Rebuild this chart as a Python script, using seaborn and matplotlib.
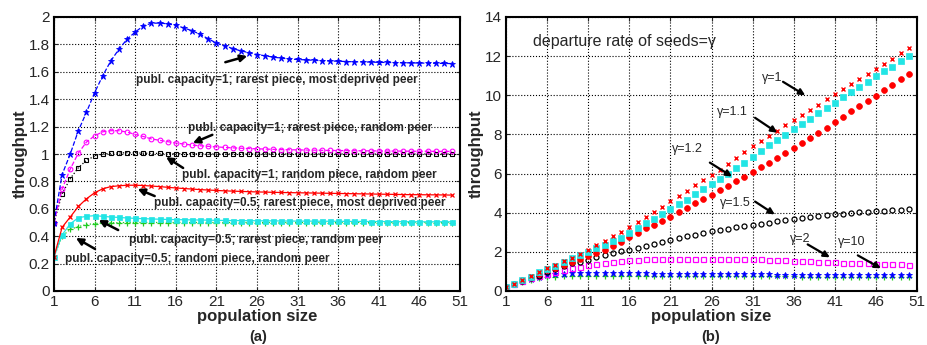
import numpy as np
import pandas as pd
import matplotlib
matplotlib.use("Agg")
import matplotlib.pyplot as plt
import seaborn as sns

# ==========================================================
# Data (population size 1..50)
# ==========================================================
pop = np.arange(1, 51)

# panel (a): publ. capacity = 1
cap1_rarest_deprived = [0.50, 0.85, 1.00, 1.17, 1.305, 1.448, 1.571, 1.68, 1.765, 1.838,
                        1.89, 1.935, 1.954, 1.956, 1.95, 1.94, 1.92, 1.90, 1.874, 1.84,
                        1.81, 1.79, 1.77, 1.753, 1.74, 1.726, 1.717, 1.707, 1.70, 1.693,
                        1.69, 1.687, 1.684, 1.681, 1.679, 1.677, 1.675, 1.673, 1.672, 1.671,
                        1.669, 1.668, 1.667, 1.666, 1.665, 1.664, 1.663, 1.662, 1.661, 1.66]
cap1_rarest_random = [0.50, 0.745, 0.89, 1.007, 1.087, 1.133, 1.162, 1.17, 1.17, 1.16,
                      1.143, 1.128, 1.11, 1.10, 1.09, 1.08, 1.073, 1.065, 1.06, 1.056,
                      1.052, 1.048, 1.045, 1.042, 1.04, 1.038, 1.036, 1.034, 1.032, 1.031,
                      1.03, 1.029, 1.028, 1.027, 1.026, 1.025, 1.025, 1.024, 1.023, 1.023,
                      1.022, 1.022, 1.021, 1.021, 1.02, 1.02, 1.02, 1.019, 1.019, 1.019]
cap1_random_random = [0.50, 0.71, 0.82, 0.90, 0.954, 0.985, 1.0, 1.005, 1.008, 1.009,
                      1.008, 1.006, 1.005, 1.004, 1.003, 1.002, 1.002, 1.001, 1.001, 1.0,
                      1.0, 1.0, 1.0, 1.0, 1.0, 1.0, 1.0, 1.0, 1.0, 1.0,
                      1.0, 1.0, 1.0, 1.0, 1.0, 1.0, 1.0, 1.0, 1.0, 1.0,
                      1.0, 1.0, 1.0, 1.0, 1.0, 1.0, 1.0, 1.0, 1.0, 1.0]
# panel (a): publ. capacity = 0.5
cap05_rarest_deprived = [0.25, 0.465, 0.54, 0.617, 0.673, 0.717, 0.746, 0.762, 0.768, 0.772,
                         0.772, 0.77, 0.766, 0.762, 0.757, 0.752, 0.748, 0.744, 0.74, 0.737,
                         0.734, 0.731, 0.729, 0.727, 0.725, 0.723, 0.722, 0.72, 0.719, 0.718,
                         0.717, 0.716, 0.715, 0.714, 0.713, 0.712, 0.711, 0.71, 0.709, 0.708,
                         0.707, 0.706, 0.705, 0.704, 0.703, 0.703, 0.702, 0.702, 0.701, 0.70]
cap05_rarest_random = [0.25, 0.41, 0.49, 0.535, 0.545, 0.55, 0.545, 0.54, 0.537, 0.533,
                       0.53, 0.528, 0.526, 0.524, 0.522, 0.521, 0.52, 0.519, 0.518, 0.517,
                       0.516, 0.515, 0.514, 0.514, 0.513, 0.513, 0.512, 0.512, 0.511, 0.511,
                       0.51, 0.51, 0.51, 0.509, 0.509, 0.509, 0.508, 0.508, 0.508, 0.507,
                       0.507, 0.507, 0.506, 0.506, 0.506, 0.505, 0.505, 0.505, 0.505, 0.505]
cap05_random_random = [0.25, 0.40, 0.45, 0.47, 0.485, 0.492, 0.496, 0.498, 0.499, 0.5,
                       0.5, 0.5, 0.5, 0.5, 0.5, 0.5, 0.5, 0.5, 0.5, 0.5,
                       0.5, 0.5, 0.5, 0.5, 0.5, 0.5, 0.5, 0.5, 0.5, 0.5,
                       0.5, 0.5, 0.5, 0.5, 0.5, 0.5, 0.5, 0.5, 0.5, 0.5,
                       0.5, 0.5, 0.5, 0.5, 0.5, 0.5, 0.5, 0.5, 0.5, 0.5]

# panel (b): departure rate of seeds gamma
gamma_1 = [0.2, 0.38, 0.57, 0.75, 0.95, 1.15, 1.33, 1.52, 1.71, 1.91,
           2.12, 2.34, 2.56, 2.8, 3.03, 3.27, 3.51, 3.77, 4.03, 4.3,
           4.58, 4.85, 5.13, 5.4, 5.66, 5.93, 6.2, 6.5, 6.8, 7.1,
           7.39, 7.66, 7.91, 8.2, 8.47, 8.76, 9.01, 9.27, 9.52, 9.8,
           10.06, 10.33, 10.59, 10.84, 11.1, 11.35, 11.6, 11.86, 12.15, 12.4]
gamma_1_1 = [0.2, 0.38, 0.57, 0.74, 0.95, 1.13, 1.3, 1.46, 1.67, 1.84,
             1.99, 2.19, 2.36, 2.55, 2.72, 2.98, 3.23, 3.45, 3.69, 3.91,
             4.2, 4.42, 4.67, 4.98, 5.22, 5.49, 5.73, 6.0, 6.29, 6.54,
             6.83, 7.14, 7.45, 7.73, 7.97, 8.27, 8.52, 8.81, 9.08, 9.35,
             9.62, 9.9, 10.16, 10.43, 10.68, 10.96, 11.22, 11.47, 11.76, 12.03]
gamma_1_2 = [0.2, 0.36, 0.56, 0.71, 0.85, 1.07, 1.19, 1.33, 1.5, 1.65,
             1.8, 1.92, 2.09, 2.29, 2.5, 2.78, 2.95, 3.2, 3.38, 3.58,
             3.8, 4.02, 4.26, 4.48, 4.7, 4.91, 5.16, 5.37, 5.6, 5.85,
             6.1, 6.33, 6.56, 6.8, 7.06, 7.31, 7.57, 7.82, 8.08, 8.35,
             8.62, 8.89, 9.18, 9.43, 9.7, 9.98, 10.25, 10.54, 10.82, 11.1]
gamma_1_5 = [0.2, 0.36, 0.52, 0.65, 0.78, 0.95, 1.1, 1.28, 1.42, 1.5,
             1.6, 1.72, 1.82, 1.92, 2.02, 2.1, 2.22, 2.32, 2.42, 2.51,
             2.62, 2.72, 2.79, 2.86, 2.96, 3.05, 3.12, 3.19, 3.26, 3.33,
             3.38, 3.44, 3.5, 3.56, 3.62, 3.68, 3.72, 3.77, 3.82, 3.87,
             3.91, 3.95, 3.99, 4.02, 4.05, 4.08, 4.1, 4.13, 4.16, 4.2]
gamma_2 = [0.2, 0.36, 0.52, 0.65, 0.75, 0.88, 0.97, 1.09, 1.17, 1.24,
           1.31, 1.40, 1.45, 1.50, 1.53, 1.57, 1.60, 1.62, 1.64, 1.65,
           1.66, 1.66, 1.66, 1.66, 1.66, 1.66, 1.65, 1.64, 1.63, 1.62,
           1.61, 1.61, 1.60, 1.58, 1.56, 1.55, 1.53, 1.52, 1.50, 1.48,
           1.46, 1.45, 1.44, 1.43, 1.42, 1.40, 1.39, 1.37, 1.355, 1.345]
gamma_10 = [0.2, 0.36, 0.5, 0.62, 0.72, 0.8, 0.85, 0.88, 0.9, 0.91,
            0.92, 0.92, 0.92, 0.915, 0.91, 0.905, 0.9, 0.895, 0.89, 0.885,
            0.88, 0.877, 0.874, 0.871, 0.868, 0.865, 0.862, 0.859, 0.856, 0.853,
            0.85, 0.847, 0.844, 0.841, 0.838, 0.835, 0.832, 0.829, 0.826, 0.823,
            0.82, 0.818, 0.816, 0.814, 0.812, 0.81, 0.808, 0.806, 0.804, 0.80]
gamma_inf = [0.2, 0.34, 0.47, 0.57, 0.65, 0.7, 0.74, 0.76, 0.77, 0.78,
             0.78, 0.78, 0.78, 0.78, 0.775, 0.775, 0.77, 0.77, 0.77, 0.765,
             0.765, 0.76, 0.76, 0.76, 0.76, 0.755, 0.755, 0.755, 0.75, 0.75,
             0.75, 0.75, 0.745, 0.745, 0.745, 0.745, 0.74, 0.74, 0.74, 0.74,
             0.74, 0.735, 0.735, 0.735, 0.735, 0.735, 0.73, 0.73, 0.73, 0.73]

x_ticks = [1, 6, 11, 16, 21, 26, 31, 36, 41, 46, 51]
ya_ticks = [0, 0.2, 0.4, 0.6, 0.8, 1, 1.2, 1.4, 1.6, 1.8, 2]
ya_labels = ["0", "0.2", "0.4", "0.6", "0.8", "1", "1.2", "1.4", "1.6", "1.8", "2"]
yb_ticks = [0, 2, 4, 6, 8, 10, 12, 14]

# annotation texts
labels_a = ["publ. capacity=1; rarest piece, most deprived peer",
            "publ. capacity=1; rarest piece, random peer",
            "publ. capacity=1; random piece, random peer",
            "publ. capacity=0.5; rarest piece, most deprived peer",
            "publ. capacity=0.5; rarest piece, random peer",
            "publ. capacity=0.5; random piece, random peer"]
labels_b = ["\u03b3=1", "\u03b3=1.1", "\u03b3=1.2", "\u03b3=1.5", "\u03b3=2", "\u03b3=10"]

# ==========================================================
# Style
# ==========================================================
sns.set_style("white")
plt.rcParams["font.family"] = ["Liberation Sans", "DejaVu Sans"]

fig = plt.figure(figsize=(9.27, 3.45), dpi=100)
ax_a = fig.add_axes([54 / 927, 1 - 291 / 345, 406 / 927, 274 / 345])
ax_b = fig.add_axes([506 / 927, 1 - 291 / 345, 411 / 927, 274 / 345])


def draw(ax, y, color, marker, ls="", ms=4, filled=False, lw=0.9, mew=0.9):
    face = color if filled else "none"
    sns.lineplot(x=pop, y=y, ax=ax, color=color, marker=marker, linestyle=ls,
                 linewidth=lw, markersize=ms, markerfacecolor=face,
                 markeredgecolor=color, markeredgewidth=mew)


# ==========================================================
# Panel (a)
# ==========================================================
draw(ax_a, cap05_random_random, "#22cc22", "+", ls=":", ms=4)
draw(ax_a, cap05_rarest_random, "#22e5e5", "s", ls="-", ms=3.6, filled=True, mew=0.5)
draw(ax_a, cap05_rarest_deprived, "red", "x", ls="-", ms=3)
draw(ax_a, cap1_random_random, "black", "s", ls=":", ms=3.2, mew=0.8)
draw(ax_a, cap1_rarest_random, "magenta", "o", ls="--", ms=3.4, mew=0.8)
draw(ax_a, cap1_rarest_deprived, "blue", "*", ls="--", ms=4.5, filled=True, mew=0.6)

ann_a = [((28.5, 1.54), (22.1, 1.67), (24.8, 1.715)),
         ((32.5, 1.19), (20.5, 1.14), (18.1, 1.08)),
         ((32.5, 0.847), (16.9, 0.898), (14.8, 0.978)),
         ((31.3, 0.642), (13.4, 0.693), (11.3, 0.745)),
         ((25.9, 0.372), (8.9, 0.445), (6.5, 0.518)),
         ((18.7, 0.234), (6.05, 0.307), (3.7, 0.387))]
for text, (txy, tail, head) in zip(labels_a, ann_a):
    ax_a.text(txy[0], txy[1], text, ha="center", va="center",
              fontsize=8.5, fontweight="bold")
    ax_a.annotate("", xy=head, xytext=tail,
                  arrowprops=dict(arrowstyle="-|>", color="black", lw=1.8,
                                  mutation_scale=10, shrinkA=0, shrinkB=0))

ax_a.set_xlim(1, 51)
ax_a.set_ylim(0, 2)
ax_a.set_xticks(x_ticks)
ax_a.set_yticks(ya_ticks)
ax_a.set_yticklabels(ya_labels)
ax_a.set_xlabel("population size", fontsize=12, fontweight="bold", labelpad=0)
ax_a.set_ylabel("throughput", fontsize=12, fontweight="bold", labelpad=1)

# ==========================================================
# Panel (b)
# ==========================================================
draw(ax_b, gamma_inf, "#22cc22", "+", ms=4)
draw(ax_b, gamma_10, "blue", "*", ms=4.5, filled=True, mew=0.6)
draw(ax_b, gamma_2, "magenta", "s", ms=3.6, mew=0.9)
draw(ax_b, gamma_1_5, "black", "o", ms=3.6, mew=0.9)
draw(ax_b, gamma_1_2, "red", "o", ms=4.2, filled=True, mew=0.5)
draw(ax_b, gamma_1_1, "#22e5e5", "s", ms=4.0, filled=True, mew=0.5)
draw(ax_b, gamma_1, "red", "x", ms=3, mew=1.0)

ax_b.text(4.3, 12.73, "departure rate of seeds=\u03b3", ha="left", va="center", fontsize=11.5)
ann_b = [((33.4, 10.88), (34.7, 10.69), (37.4, 10.0)),
         ((28.6, 9.16), (31.3, 8.85), (34.0, 8.09)),
         ((23.1, 7.27), (25.8, 6.56), (28.5, 5.85)),
         ((28.9, 4.52), (31.3, 4.57), (33.7, 3.91)),
         ((36.8, 2.64), (37.7, 2.38), (40.4, 1.72)),
         ((43.1, 2.48), (43.8, 1.82), (46.6, 1.16))]
for text, (txy, tail, head) in zip(labels_b, ann_b):
    ax_b.text(txy[0], txy[1], text, ha="center", va="center", fontsize=9)
    ax_b.annotate("", xy=head, xytext=tail,
                  arrowprops=dict(arrowstyle="-|>", color="black", lw=1.6,
                                  mutation_scale=9, shrinkA=0, shrinkB=0))

ax_b.set_xlim(1, 51)
ax_b.set_ylim(0, 14)
ax_b.set_xticks(x_ticks)
ax_b.set_yticks(yb_ticks)
ax_b.set_xlabel("population size", fontsize=12, fontweight="bold", labelpad=0)
ax_b.set_ylabel("throughput", fontsize=12, fontweight="bold", labelpad=1)

for ax in (ax_a, ax_b):
    ax.grid(True, color="black", linestyle=":", linewidth=0.8)
    ax.tick_params(direction="in", length=3, labelsize=11, pad=3,
                   bottom=True, left=True, top=True, right=True,
                   labeltop=False, labelright=False)
    for sp in ax.spines.values():
        sp.set_visible(True)
        sp.set_color("black")
        sp.set_linewidth(1.5)

fig.text(258 / 927, 1 - 337 / 345, "(a)", ha="center", va="center",
         fontsize=10.5, fontweight="bold")
fig.text(711 / 927, 1 - 337 / 345, "(b)", ha="center", va="center",
         fontsize=10.5, fontweight="bold")

plt.savefig("out.png", dpi=100)
